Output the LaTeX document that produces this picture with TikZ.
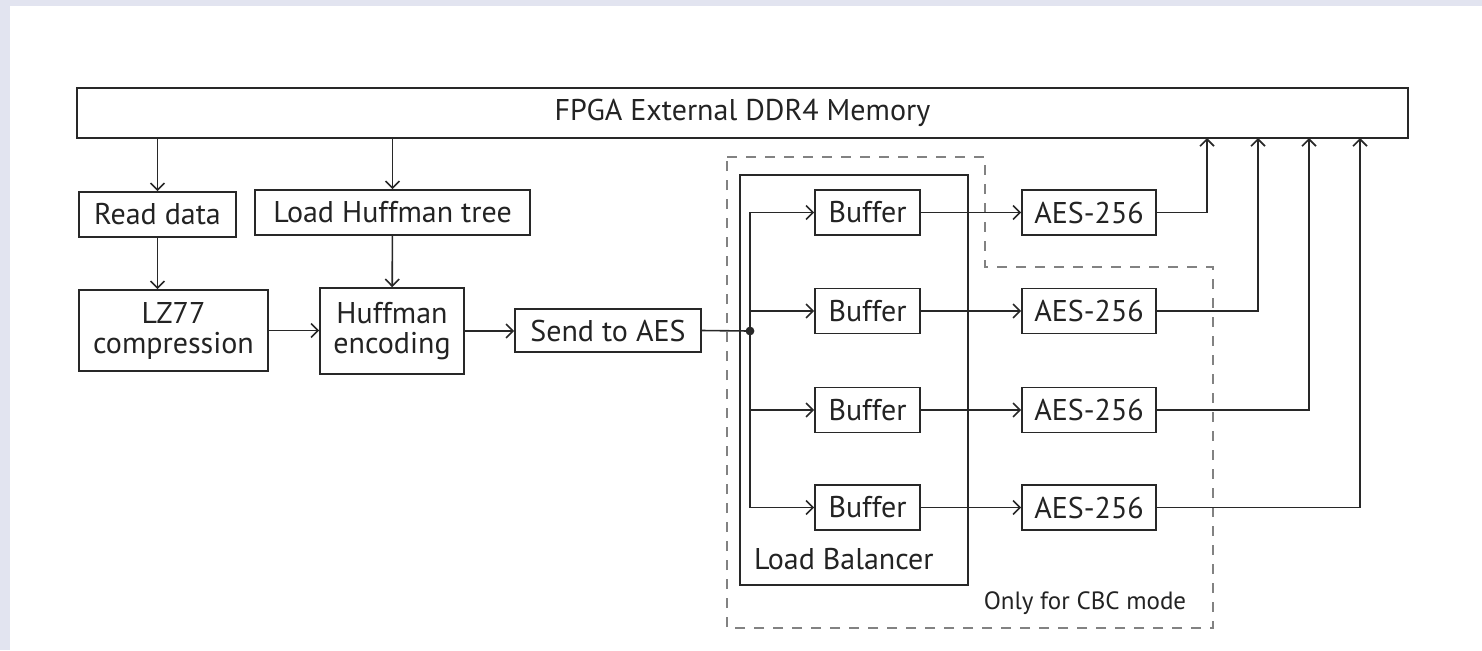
\documentclass[tikz,border=0pt]{standalone}
\usepackage{fontspec}
\setmainfont{PT Sans}
\usetikzlibrary{arrows.meta}
\definecolor{bgband}{RGB}{226,228,240}
\definecolor{linec}{RGB}{40,40,40}
\definecolor{textc}{RGB}{35,35,35}
\definecolor{dashc}{RGB}{130,130,130}
\def\pxu{0.5pt}
\begin{document}
\begin{tikzpicture}[x=0.5pt,y=-0.5pt,
  box/.style={draw=linec, line width=0.8pt, inner sep=0pt, align=center,
    font=\fontsize{15}{15}\selectfont, text=textc},
  conn/.style={draw=linec, line width=0.8pt, -{Straight Barb[length=3.5pt,width=7pt]}},
  wire/.style={draw=linec, line width=0.8pt},
  region/.style={draw=dashc, line width=0.6pt, dash pattern=on 5pt off 4.5pt}]
\useasboundingbox (0,0) rectangle (1482,650);
\fill[bgband] (0,0) rectangle (1482,650);
\fill[white] (10,6) rectangle (1482,650);

% dashed region
\draw[region] (727,157) -- (985,157) -- (985,267) -- (1213,267) -- (1213,628) -- (727,628) -- cycle;
\node[font=\fontsize{12.5}{13}\selectfont, text=textc] (cbc) at (1085,603) {Only for CBC mode};

% memory
\node[box, minimum width=1331*\pxu, minimum height=50*\pxu] (mem) at (742.5,113) {FPGA External DDR4 Memory};

% left chain
\node[box, minimum width=157*\pxu, minimum height=45*\pxu] (read) at (157.5,214.5) {Read data};
\node[box, minimum width=275*\pxu, minimum height=45*\pxu] (lht) at (392.5,212.5) {Load Huffman tree};
\node[box, minimum width=189*\pxu, minimum height=81*\pxu] (lz) at (173.5,330.5) {LZ77\\compression};
\node[box, minimum width=144*\pxu, minimum height=86*\pxu] (he) at (392,331) {Huffman\\encoding};
\node[box, minimum width=186*\pxu, minimum height=43*\pxu] (send) at (608,330.5) {Send to AES};

% load balancer
\node[box, minimum width=228*\pxu, minimum height=410*\pxu] (lb) at (854,380) {};
\node[font=\fontsize{15}{15}\selectfont, text=textc, anchor=west] (lbl) at (747,559) {Load Balancer};

\foreach \i/\y in {1/212.5,2/311,3/410,4/507.5}{
  \node[box, minimum width=105*\pxu, minimum height=45*\pxu] (b\i) at (867.5,\y) {Buffer};
  \node[box, minimum width=134*\pxu, minimum height=45*\pxu] (a\i) at (1089,\y) {AES-256};
}

\coordinate (j) at (750,331);
\coordinate (o1) at (1207,138);
\coordinate (o2) at (1258,138);
\coordinate (o3) at (1309,138);
\coordinate (o4) at (1360,138);

% connectors
\draw[conn] (mem.south -| read) -- (read);
\draw[conn] (mem.south -| lht) -- (lht);
\draw[conn] (read.south) -- (read.south |- lz.north);
\draw[conn] (lht) -- (he);
\draw[conn] (lz.east) -- (lz.east -| he.west);
\draw[conn] (he.east) -- (he.east -| send.west);
\draw[wire] (send.east) -- (j);
\fill[linec] (j) circle (2.2pt);
\foreach \i in {1,...,4}{
  \draw[conn] (j) |- (b\i.west);
  \draw[conn] (b\i.east) -- (a\i.west);
  \draw[conn] (a\i.east) -| (o\i);
}
\end{tikzpicture}
\end{document}
